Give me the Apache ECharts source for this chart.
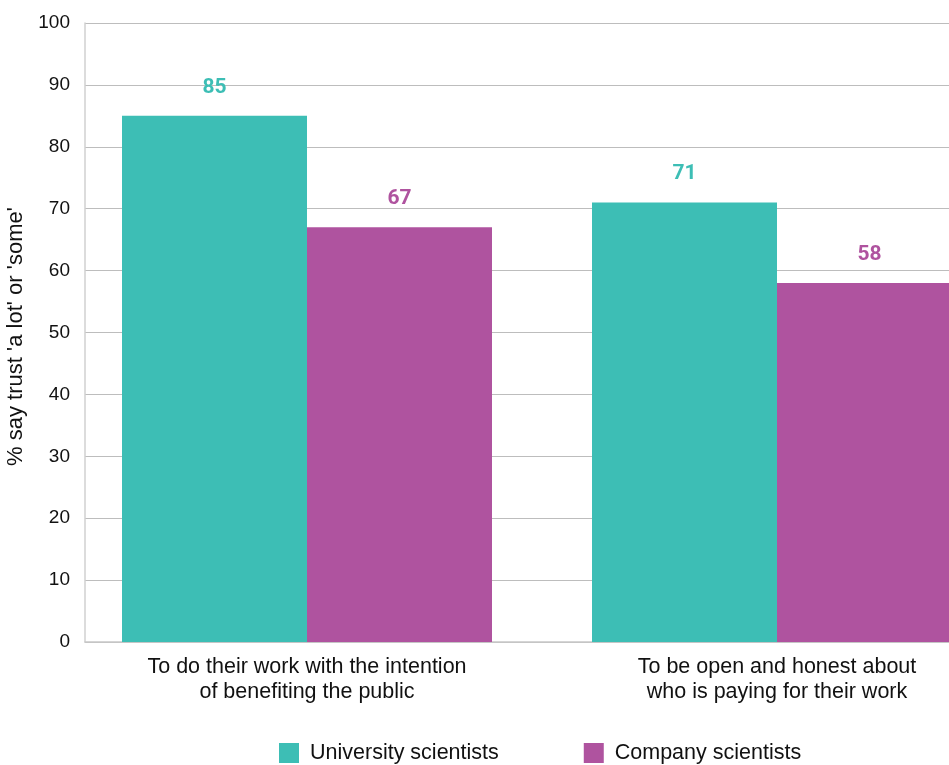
<!DOCTYPE html>
<html>
<head>
<meta charset="utf-8">
<script src="https://cdn.jsdelivr.net/npm/echarts@6/dist/echarts.min.js"></script>
<style>html,body{margin:0;padding:0;background:#fff}#c{width:949px;height:765px}</style>
</head>
<body>
<div id="c"></div>
<script>
const categories = ["To do their work with the intention\nof benefiting the public", "To be open and honest about\nwho is paying for their work"];
const seriesNames = ["University scientists", "Company scientists"];
const university = [85, 71];
const company = [67, 58];
const yTicks = [0, 10, 20, 30, 40, 50, 60, 70, 80, 90, 100];

const FONT = "Liberation Sans, Arial, Helvetica, sans-serif";
const teal = "#3dbeb5";
const purple = "#af539f";

const chart = echarts.init(document.getElementById('c'));
chart.setOption({
  animation: false,
  textStyle: { fontFamily: FONT },
  grid: [
    { left: 85, top: 23, bottom: 123, right: 0, outerBoundsMode: 'none', containLabel: false },
    { left: 72, top: 23, bottom: 123, right: -63, outerBoundsMode: 'none', containLabel: false }
  ],
  xAxis: [
    { gridIndex: 0, type: 'category', data: categories, axisLine: { show: true, lineStyle: { color: '#c8c8c8', width: 1.5 } }, axisTick: { show: false }, axisLabel: { show: false } },
    { gridIndex: 1, type: 'category', data: categories, axisLine: { show: false }, axisTick: { show: false },
      axisLabel: { color: '#111', fontSize: 21.5, lineHeight: 25, margin: 13, fontFamily: FONT } }
  ],
  yAxis: [
    { gridIndex: 0, type: 'value', min: yTicks[0], max: yTicks[yTicks.length - 1], interval: 10,
      axisLine: { show: true, lineStyle: { color: '#d0d0d0', width: 1.5 } }, axisTick: { show: false },
      splitLine: { show: true, lineStyle: { color: '#bdbdbd', width: 1 } },
      axisLabel: { color: '#111', fontSize: 19, margin: 15, fontFamily: FONT },
      name: "% say trust 'a lot' or 'some'", nameLocation: 'middle', nameGap: 48, nameRotate: 90,
      nameTextStyle: { color: '#111', fontSize: 22, fontFamily: FONT, padding: [0, 8, 0, 0] } },
    { gridIndex: 1, type: 'value', min: yTicks[0], max: yTicks[yTicks.length - 1], interval: 10, show: false, splitLine: { show: false } }
  ],
  legend: {
    bottom: -4, left: 274, itemWidth: 20, itemHeight: 20, itemGap: 85, icon: 'rect',
    textStyle: { color: '#111', fontSize: 21.5, fontFamily: FONT, padding: [0, 0, 0, 6] },
    data: seriesNames
  },
  series: [
    { name: seriesNames[0], type: 'bar', xAxisIndex: 1, yAxisIndex: 1, data: university, barWidth: 185, barGap: '0%',
      itemStyle: { color: teal },
      label: { show: true, position: 'top', distance: 18, color: teal, fontSize: 21, fontWeight: 'bold', fontFamily: "Roboto, " + FONT } },
    { name: seriesNames[1], type: 'bar', xAxisIndex: 1, yAxisIndex: 1, data: company, barWidth: 185, barGap: '0%',
      itemStyle: { color: purple },
      label: { show: true, position: 'top', distance: 18, color: purple, fontSize: 21, fontWeight: 'bold', fontFamily: "Roboto, " + FONT } }
  ]
});
</script>
</body>
</html>
